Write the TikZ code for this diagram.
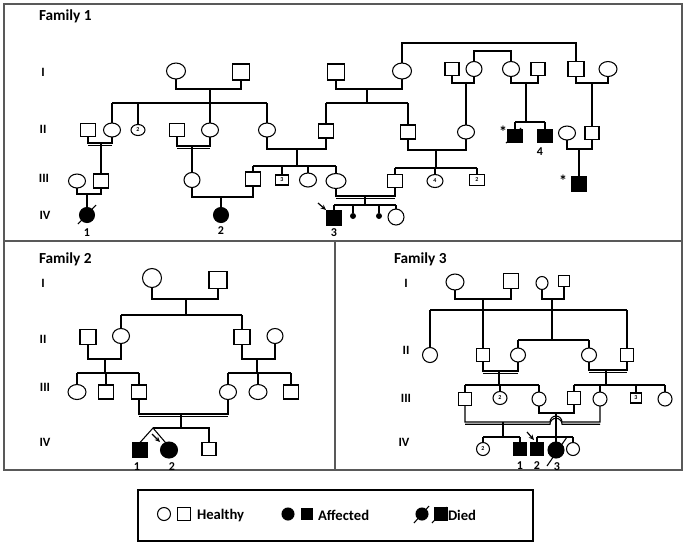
\documentclass[tikz,border=0pt]{standalone}
\usepackage{fontspec}
\setmainfont{Carlito}
\usetikzlibrary{shapes.geometric,arrows.meta}
\begin{document}
\begin{tikzpicture}[x=0.75pt,y=-0.75pt,
  every node/.style={inner sep=0pt,outer sep=0pt},
  ln/.style={line width=0.8pt},
  dbl/.style={line width=0.8pt,transform canvas={yshift=-1.7pt}},
  sz/.style 2 args={minimum width=#1*0.75pt,minimum height=#2*0.75pt},
  fem/.style={ellipse,draw,line width=0.8pt},
  mal/.style={rectangle,draw,line width=0.8pt},
  dot/.style={circle,fill,minimum size=4.5pt},
  tiny/.style={font=\fontsize{4.5}{5}\selectfont\bfseries},
  gl/.style={font=\fontsize{9.5}{11}\selectfont\bfseries},
  ft/.style={font=\fontsize{11.5}{13}\selectfont\bfseries,anchor=west},
  num/.style={font=\fontsize{9}{10}\selectfont\bfseries},
  ast/.style={font=\fontsize{12}{12}\selectfont\bfseries},
  lg/.style={font=\fontsize{11}{12}\selectfont\bfseries,anchor=west},
  frame/.style={draw=black!65,line width=1.1pt},
  prob/.style={-{Stealth[length=4pt,width=3.5pt]},line width=0.9pt},
  slash/.style={line width=0.8pt}]
\useasboundingbox (0,0) rectangle (685,544);
% ---------- panels
\draw[frame] (4,4) rectangle (682,470);
\draw[frame] (4,241) -- (682,241);
\draw[frame] (335,241) -- (335,470);
% ================= FAMILY 1
\node[ft] (t1) at (39,16) {Family 1};
\node[gl] (g1a) at (43,72) {I};
\node[gl] (g1b) at (43,129) {II};
\node[gl] (g1c) at (44,178) {III};
\node[gl] (g1d) at (45,215) {IV};
% gen I
\node[fem,sz={19}{16}] (A1) at (176,71) {};
\node[mal,sz={17}{16}] (A2) at (241,72) {};
\node[mal,sz={17}{16}] (A3) at (336,72) {};
\node[fem,sz={19}{16}] (A4) at (402,71) {};
\node[mal,sz={14}{13}] (A5) at (452,69) {};
\node[fem,sz={16}{15}] (A6) at (474,69) {};
\node[fem,sz={17}{15}] (A7) at (511,69) {};
\node[mal,sz={14}{13}] (A8) at (538,69) {};
\node[mal,sz={16}{15}] (A9) at (576,69) {};
\node[fem,sz={18}{15}] (A10) at (608,69) {};
% gen II
\node[mal,sz={15}{13}] (B1) at (88,130) {};
\node[fem,sz={17}{14}] (B2) at (112,130) {};
\node[fem,sz={14}{11},tiny] (B3) at (138,130) {2};
\node[mal,sz={15}{13}] (B4) at (177,130) {};
\node[fem,sz={17}{14}] (B5) at (210,130) {};
\node[fem,sz={17}{14}] (B6) at (267,130) {};
\node[mal,sz={15}{14}] (B7) at (326,131) {};
\node[mal,sz={15}{14}] (B8) at (408,132) {};
\node[fem,sz={17}{14}] (B9) at (466,132) {};
\node[mal,sz={14}{13},fill] (B10) at (515,136) {};
\node[mal,sz={14}{13},fill] (B11) at (545,136) {};
\node[fem,sz={17}{14}] (B12) at (567,133) {};
\node[mal,sz={14}{13}] (B13) at (592,133) {};
% gen III
\node[fem,sz={17}{14}] (C1) at (77,181) {};
\node[mal,sz={15}{14}] (C2) at (101,181) {};
\node[fem,sz={16}{15}] (C3) at (192,180) {};
\node[mal,sz={15}{14}] (C4) at (253,179) {};
\node[mal,sz={13}{10},tiny] (C5) at (282,180) {3};
\node[fem,sz={17}{14}] (C6) at (308,180) {};
\node[fem,sz={20}{15}] (C7) at (336,181) {};
\node[mal,sz={15}{13}] (C8) at (395,181) {};
\node[fem,sz={16}{13},tiny] (C9) at (435,181) {4};
\node[mal,sz={15}{11},tiny] (C10) at (477,180) {2};
\node[mal,sz={15}{14},fill] (C11) at (579,184) {};
% gen IV
\node[fem,sz={15}{15},fill] (D1) at (87,215) {};
\node[fem,sz={15}{15},fill] (D2) at (221,215) {};
\node[mal,sz={15}{14},fill] (D3) at (334,218) {};
\node[dot] (D4) at (353,216) {};
\node[dot] (D5) at (379,216) {};
\node[fem,sz={16}{16}] (D6) at (396,217) {};
% labels
\node[num] (n11) at (87,233) {1};
\node[num] (n12) at (221,231) {2};
\node[num] (n13) at (334,233) {3};
\node[num] (n14) at (540,152) {4};
\node[ast] (as1) at (503,132) {*};
\node[ast] (as2) at (563,181) {*};
% connectors family 1
\coordinate (top1) at (0,43);
\coordinate (top2) at (0,51);
\draw[ln] (A4.north) -- (A4.north|-top1) -- (A9.north|-top1) -- (A9.north);
\draw[ln] (A6.north) -- (A6.north|-top2) -- (A7.north|-top2) -- (A7.north);
\coordinate (c11) at (210,89); \coordinate (s11) at (210,103);
\draw[ln] (A1.south) |- (c11) -| (A2.south);
\draw[ln] (c11) -- (s11) (B2.north|-s11) -- (B6.north|-s11);
\foreach \c in {B2,B3,B5,B6} \draw[ln] (\c.north) -- (\c.north|-s11);
\coordinate (c12) at (367,89); \coordinate (s12) at (367,103);
\draw[ln] (A3.south) |- (c12) -| (A4.south);
\draw[ln] (c12) -- (s12) (B7.north|-s12) -- (B8.north|-s12);
\foreach \c in {B7,B8} \draw[ln] (\c.north) -- (\c.north|-s12);
\coordinate (c13) at (466,83);
\draw[ln] (A5.south) |- (c13) -| (A6.south);
\draw[ln] (c13) -- (B9.north);
\coordinate (c14) at (526,83); \coordinate (s14) at (526,122);
\draw[ln] (A7.south) |- (c14) -| (A8.south);
\draw[ln] (c14) -- (s14) (B10.north|-s14) -- (B11.north|-s14);
\foreach \c in {B10,B11} \draw[ln] (\c.north) -- (\c.north|-s14);
\coordinate (c15) at (592,83);
\draw[ln] (A9.south) |- (c15) -| (A10.south);
\draw[ln] (c15) -- (B13.north);
% gen II couples
\coordinate (c16) at (101,143);
\draw[ln] (B1.south) |- (c16) -| (B2.south);
\draw[dbl] (B1.south|-c16) -- (B2.south|-c16);
\draw[ln] (c16) -- (C2.north);
\coordinate (c17) at (192,146);
\draw[ln] (B4.south) |- (c17) -| (B5.south);
\draw[dbl] (B4.south|-c17) -- (B5.south|-c17);
\draw[ln] (c17) -- (C3.north);
\coordinate (c18) at (297,149); \coordinate (s18) at (297,166);
\draw[ln] (B6.south) |- (c18) -| (B7.south);
\draw[ln] (c18) -- (s18) (C4.north|-s18) -- (C7.north|-s18);
\foreach \c in {C4,C5,C6,C7} \draw[ln] (\c.north) -- (\c.north|-s18);
\coordinate (c19) at (436,150); \coordinate (s19) at (436,168);
\draw[ln] (B8.south) |- (c19) -| (B9.south);
\draw[ln] (c19) -- (s19) (C8.north|-s19) -- (C10.north|-s19);
\foreach \c in {C8,C9,C10} \draw[ln] (\c.north) -- (\c.north|-s19);
\coordinate (c110) at (579,149);
\draw[ln] (B12.south) |- (c110) -| (B13.south);
\draw[ln] (c110) -- (C11.north);
% gen III couples
\coordinate (c111) at (87,194);
\draw[ln] (C1.south) |- (c111) -| (C2.south);
\draw[ln] (c111) -- (D1.north);
\coordinate (c112) at (221,197);
\draw[ln] (C3.south) |- (c112) -| (C4.south);
\draw[ln] (c112) -- (D2.north);
\coordinate (c113) at (365,196); \coordinate (s113) at (365,205);
\draw[ln] (C7.south) |- (c113) -| (C8.south);
\draw[dbl] (C7.south|-c113) -- (C8.south|-c113);
\draw[ln] (c113) -- (s113) (D3.north|-s113) -- (D6.north|-s113);
\foreach \c in {D3,D4,D5,D6} \draw[ln] (\c.north) -- (\c.north|-s113);
% deaths, proband
\coordinate (k1a) at (78,224); \coordinate (k1b) at (96,205);
\draw[slash] (k1a) -- (k1b);
\coordinate (k2a) at (506,143); \coordinate (k2b) at (521,128);
\draw[slash] (k2a) -- (k2b);
\coordinate (p1a) at (318,203); \coordinate (p1b) at (326,210);
\draw[prob] (p1a) -- (p1b);
% ================= FAMILY 2
\node[ft] (t2) at (39,259) {Family 2};
\node[gl] (g2a) at (43,283) {I};
\node[gl] (g2b) at (43,339) {II};
\node[gl] (g2c) at (45,387) {III};
\node[gl] (g2d) at (45,442) {IV};
\node[fem,sz={19}{19}] (E1) at (152,278) {};
\node[mal,sz={18}{17}] (E2) at (218,280) {};
\node[mal,sz={16}{15}] (F1) at (88,337) {};
\node[fem,sz={17}{15}] (F2) at (121,336) {};
\node[mal,sz={16}{15}] (F3) at (242,337) {};
\node[fem,sz={16}{15}] (F4) at (275,336) {};
\node[fem,sz={18}{15}] (G1) at (77,392) {};
\node[mal,sz={15}{14}] (G2) at (106,392) {};
\node[mal,sz={15}{14}] (G3) at (139,392) {};
\node[fem,sz={17}{15}] (G4) at (228,392) {};
\node[fem,sz={18}{15}] (G5) at (258,392) {};
\node[mal,sz={15}{14}] (G6) at (291,392) {};
\node[mal,sz={15}{15},fill] (H1) at (140,450) {};
\node[fem,sz={17}{16},fill] (H2) at (169,450) {};
\node[mal,sz={14}{13}] (H3) at (209,449) {};
\node[num] (n21) at (137,467) {1};
\node[num] (n22) at (172,467) {2};
\coordinate (c21) at (186,299); \coordinate (s21) at (186,315);
\draw[ln] (E1.south) |- (c21) -| (E2.south);
\draw[ln] (c21) -- (s21) (F2.north|-s21) -- (F3.north|-s21);
\foreach \c in {F2,F3} \draw[ln] (\c.north) -- (\c.north|-s21);
\coordinate (c22) at (105,359); \coordinate (s22) at (105,373);
\draw[ln] (F1.south) |- (c22) -| (F2.south);
\draw[ln] (c22) -- (s22) (G1.north|-s22) -- (G3.north|-s22);
\foreach \c in {G1,G2,G3} \draw[ln] (\c.north) -- (\c.north|-s22);
\coordinate (c23) at (257,359); \coordinate (s23) at (257,373);
\draw[ln] (F3.south) |- (c23) -| (F4.south);
\draw[ln] (c23) -- (s23) (G4.north|-s23) -- (G6.north|-s23);
\foreach \c in {G4,G5,G6} \draw[ln] (\c.north) -- (\c.north|-s23);
\coordinate (c24) at (181,414); \coordinate (s24) at (181,428);
\coordinate (tw) at (153,428);
\draw[ln] (G3.south) |- (c24) -| (G4.south);
\draw[dbl] (G3.south|-c24) -- (G4.south|-c24);
\draw[ln] (c24) -- (s24) (tw) -- (H3.north|-s24) -- (H3.north);
\draw[ln] (H1.north) -- (tw) -- (H2.115);
\coordinate (p2a) at (152,434); \coordinate (p2b) at (160,442);
\draw[prob] (p2a) -- (p2b);
% ================= FAMILY 3
\node[ft] (t3) at (394,259) {Family 3};
\node[gl] (g3a) at (406,283) {I};
\node[gl] (g3b) at (406,350) {II};
\node[gl] (g3c) at (406,398) {III};
\node[gl] (g3d) at (404,442) {IV};
\node[fem,sz={18}{16}] (I1) at (455,282) {};
\node[mal,sz={15}{15}] (I2) at (511,281) {};
\node[fem,sz={12}{13}] (I3) at (542,283) {};
\node[mal,sz={11}{11}] (I4) at (564,281) {};
\node[fem,sz={15}{15}] (J1) at (430,355) {};
\node[mal,sz={13}{13}] (J2) at (483,355) {};
\node[fem,sz={15}{14}] (J3) at (518,355) {};
\node[fem,sz={15}{14}] (J4) at (589,355) {};
\node[mal,sz={13}{13}] (J5) at (627,355) {};
\node[mal,sz={13}{13}] (K1) at (465,399) {};
\node[fem,sz={14}{13},tiny] (K2) at (500,398) {2};
\node[fem,sz={14}{14}] (K3) at (539,399) {};
\node[mal,sz={13}{13}] (K4) at (574,398) {};
\node[fem,sz={14}{14}] (K5) at (600,399) {};
\node[mal,sz={11}{10},tiny] (K6) at (636,398) {3};
\node[fem,sz={14}{14}] (K7) at (665,399) {};
\node[fem,sz={13}{13},tiny] (L1) at (483,449) {2};
\node[mal,sz={12}{13},fill] (L2) at (520,449) {};
\node[mal,sz={12}{13},fill] (L3) at (537,449) {};
\node[fem,sz={16}{16},fill] (L4) at (556,450) {};
\node[fem,sz={13}{13}] (L5) at (573,449) {};
\node[num] (n31) at (520,466) {1};
\node[num] (n32) at (537,466) {2};
\node[num] (n33) at (557,467) {3};
\coordinate (c31) at (483,299); \coordinate (s31) at (483,310);
\draw[ln] (I1.south) |- (c31) -| (I2.south);
\draw[ln] (c31) -- (J2.north) (J1.north|-s31) -- (J5.north|-s31);
\foreach \c in {J1,J5} \draw[ln] (\c.north) -- (\c.north|-s31);
\coordinate (c32) at (552,299); \coordinate (s32) at (552,340);
\draw[ln] (I3.south) |- (c32) -| (I4.south);
\draw[ln] (c32) -- (s32) (J3.north|-s32) -- (J4.north|-s32);
\foreach \c in {J3,J4} \draw[ln] (\c.north) -- (\c.north|-s32);
\coordinate (c33) at (499,371); \coordinate (s33) at (499,385);
\draw[ln] (J2.south) |- (c33) -| (J3.south);
\draw[dbl] (J2.south|-c33) -- (J3.south|-c33);
\draw[ln] (c33) -- (s33) (K1.north|-s33) -- (K3.north|-s33);
\foreach \c in {K1,K2,K3} \draw[ln] (\c.north) -- (\c.north|-s33);
\coordinate (c34) at (606,370); \coordinate (s34) at (606,385);
\draw[ln] (J4.south) |- (c34) -| (J5.south);
\draw[dbl] (J4.south|-c34) -- (J5.south|-c34);
\draw[ln] (c34) -- (s34) (K4.north|-s34) -- (K7.north|-s34);
\foreach \c in {K4,K5,K6,K7} \draw[ln] (\c.north) -- (\c.north|-s34);
\coordinate (c35) at (556,413); \coordinate (s35) at (556,437);
\draw[ln] (K3.south) |- (c35) -| (K4.south);
\draw[ln] (c35) -- (L4.north) (L3.north|-s35) -- (L5.north|-s35);
\foreach \c in {L3,L5} \draw[ln] (\c.north) -- (\c.north|-s35);
\coordinate (c36) at (503,422); \coordinate (s36) at (503,437);
\coordinate (hopL) at (550,422);
\draw[ln] (K1.south) |- (hopL) arc[start angle=180,end angle=0,radius=4.5pt] -| (K5.south);
\draw[dbl] (K1.south|-c36) -- (hopL) arc[start angle=180,end angle=0,radius=4.5pt] -- (K5.south|-c36);
\draw[ln] (c36) -- (s36) (L1.north|-s36) -- (L2.north|-s36);
\foreach \c in {L1,L2} \draw[ln] (\c.north) -- (\c.north|-s36);
\coordinate (k3a) at (547,466); \coordinate (k3b) at (567,437);
\draw[slash] (k3a) -- (k3b);
\coordinate (p3a) at (527,432); \coordinate (p3b) at (534,440);
\draw[prob] (p3a) -- (p3b);
% ================= LEGEND
\draw[line width=1.7pt] (138,490) rectangle (533,541);
\node[fem,sz={13}{13}] (M1) at (164,514) {};
\node[mal,sz={13}{13}] (M2) at (184,514) {};
\node[lg] (lh) at (197,515) {Healthy};
\node[fem,sz={12}{12},fill] (M3) at (288,514) {};
\node[mal,sz={11}{11},fill] (M4) at (307,514) {};
\node[lg] (la) at (318,515) {Affected};
\node[fem,sz={12}{12},fill] (M5) at (422,514) {};
\node[mal,sz={12}{12},fill] (M6) at (441,514) {};
\node[lg] (ld) at (448,515) {Died};
\coordinate (k4a) at (414,523); \coordinate (k4b) at (429,506);
\draw[slash] (k4a) -- (k4b);
\coordinate (k5a) at (432,523); \coordinate (k5b) at (447,507);
\draw[slash] (k5a) -- (k5b);
\end{tikzpicture}
\end{document}
